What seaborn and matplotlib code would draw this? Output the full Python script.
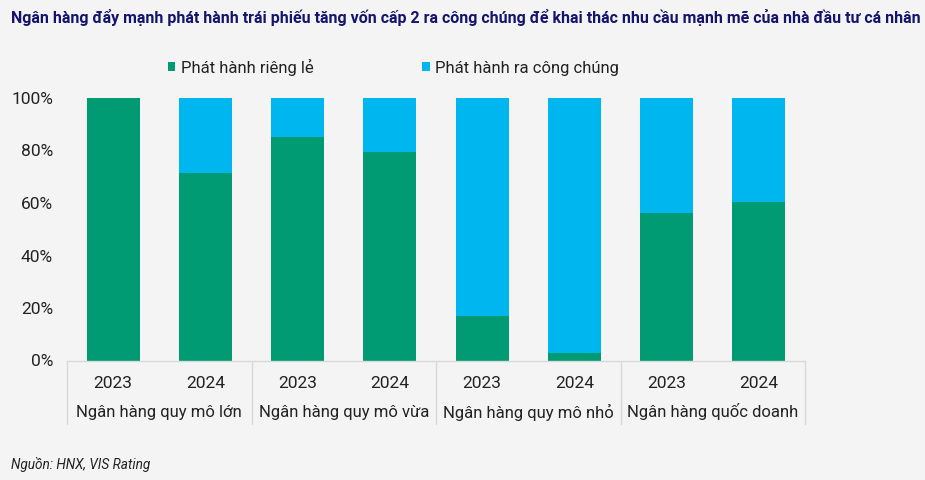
import matplotlib
matplotlib.use("Agg")
import matplotlib.pyplot as plt
import matplotlib.transforms as mtransforms
import seaborn as sns
import pandas as pd

groups = ["Ngân hàng quy mô lớn", "Ngân hàng quy mô vừa",
          "Ngân hàng quy mô nhỏ", "Ngân hàng quốc doanh"]
years = ["2023", "2024"]
private_pct = [100.0, 71.5, 85.0, 79.6, 17.0, 2.8, 56.2, 60.3]
public_pct = [0.0, 28.5, 15.0, 20.4, 83.0, 97.2, 43.8, 39.7]
yticks = [0, 20, 40, 60, 80, 100]
title = "Ngân hàng đẩy mạnh phát hành trái phiếu tăng vốn cấp 2 ra công chúng để khai thác nhu cầu mạnh mẽ của nhà đầu tư cá nhân"
source = "Nguồn: HNX, VIS Rating"
legend_labels = ["Phát hành riêng lẻ", "Phát hành ra công chúng"]

GREEN = "#009B72"
BLUE = "#00B6EF"
BG = "#F4F4F4"
TXT = "#222222"

keys = [f"{g}|{y}" for g in groups for y in years]
df = pd.DataFrame({
    "key": keys,
    "private": private_pct,
    "total": [a + b for a, b in zip(private_pct, public_pct)],
})

sns.set_theme(style="white")
plt.rcParams["font.family"] = ["Roboto", "DejaVu Sans"]

fig = plt.figure(figsize=(9.25, 4.8), dpi=100, facecolor=BG)
ax = fig.add_axes([67 / 925, (480 - 360.5) / 480, (805 - 67) / 925, (360.5 - 98) / 480])
ax.set_facecolor(BG)

sns.barplot(data=df, x="key", y="total", order=keys, color=BLUE, saturation=1,
            width=0.575, ax=ax, label=legend_labels[1], linewidth=0)
sns.barplot(data=df, x="key", y="private", order=keys, color=GREEN, saturation=1,
            width=0.575, ax=ax, label=legend_labels[0], linewidth=0)

ax.set_ylim(0, 100)
ax.set_xlim(-0.5, len(keys) - 0.5)
ax.set_yticks(yticks)
ax.set_yticklabels([f"{v}%" for v in yticks], fontsize=12.5, color=TXT)
ax.set_xticks(range(len(keys)))
ax.set_xticklabels([k.split("|")[1] for k in keys], fontsize=12.5, color=TXT)
ax.tick_params(axis="y", length=0, pad=10)
ax.tick_params(axis="x", length=0, pad=11)
ax.set_xlabel("")
ax.set_ylabel("")
for s in ["top", "right", "left"]:
    ax.spines[s].set_visible(False)
ax.spines["bottom"].set_color("#D9D9D9")
ax.spines["bottom"].set_linewidth(1)

trans = mtransforms.blended_transform_factory(ax.transData, ax.transAxes)
depth = -(423.7 - 360.5) / (360.5 - 98)
for i in range(len(groups) + 1):
    xsep = -0.5 + 2 * i
    ax.plot([xsep, xsep], [0, depth], transform=trans, color="#D9D9D9",
            lw=1, clip_on=False)
for i, g in enumerate(groups):
    ax.text(2 * i + 0.5, -(412 - 360.5) / (360.5 - 98), g, transform=trans,
            ha="center", va="center", fontsize=12, color=TXT)

handles, labels = ax.get_legend_handles_labels()
order = [labels.index(l) for l in legend_labels]
leg = fig.legend([handles[i] for i in order], [labels[i] for i in order],
                 loc="center", bbox_to_anchor=(393.5 / 925, 1 - 67 / 480),
                 ncol=2, frameon=False, fontsize=12, handlelength=0.45,
                 handleheight=0.45, handletextpad=0.35, columnspacing=6.5,
                 borderpad=0, borderaxespad=0)
for t in leg.get_texts():
    t.set_color(TXT)
if ax.get_legend():
    ax.get_legend().remove()

fig.text(11 / 925, 1 - 18 / 480, title, ha="left", va="center", fontsize=11.5,
         fontweight="bold", color="#14146E")
fig.text(11 / 925, 1 - 465 / 480, source, ha="left", va="center", fontsize=9.8,
         style="italic", color=TXT)

fig.savefig("out.png", dpi=100, facecolor=BG)
